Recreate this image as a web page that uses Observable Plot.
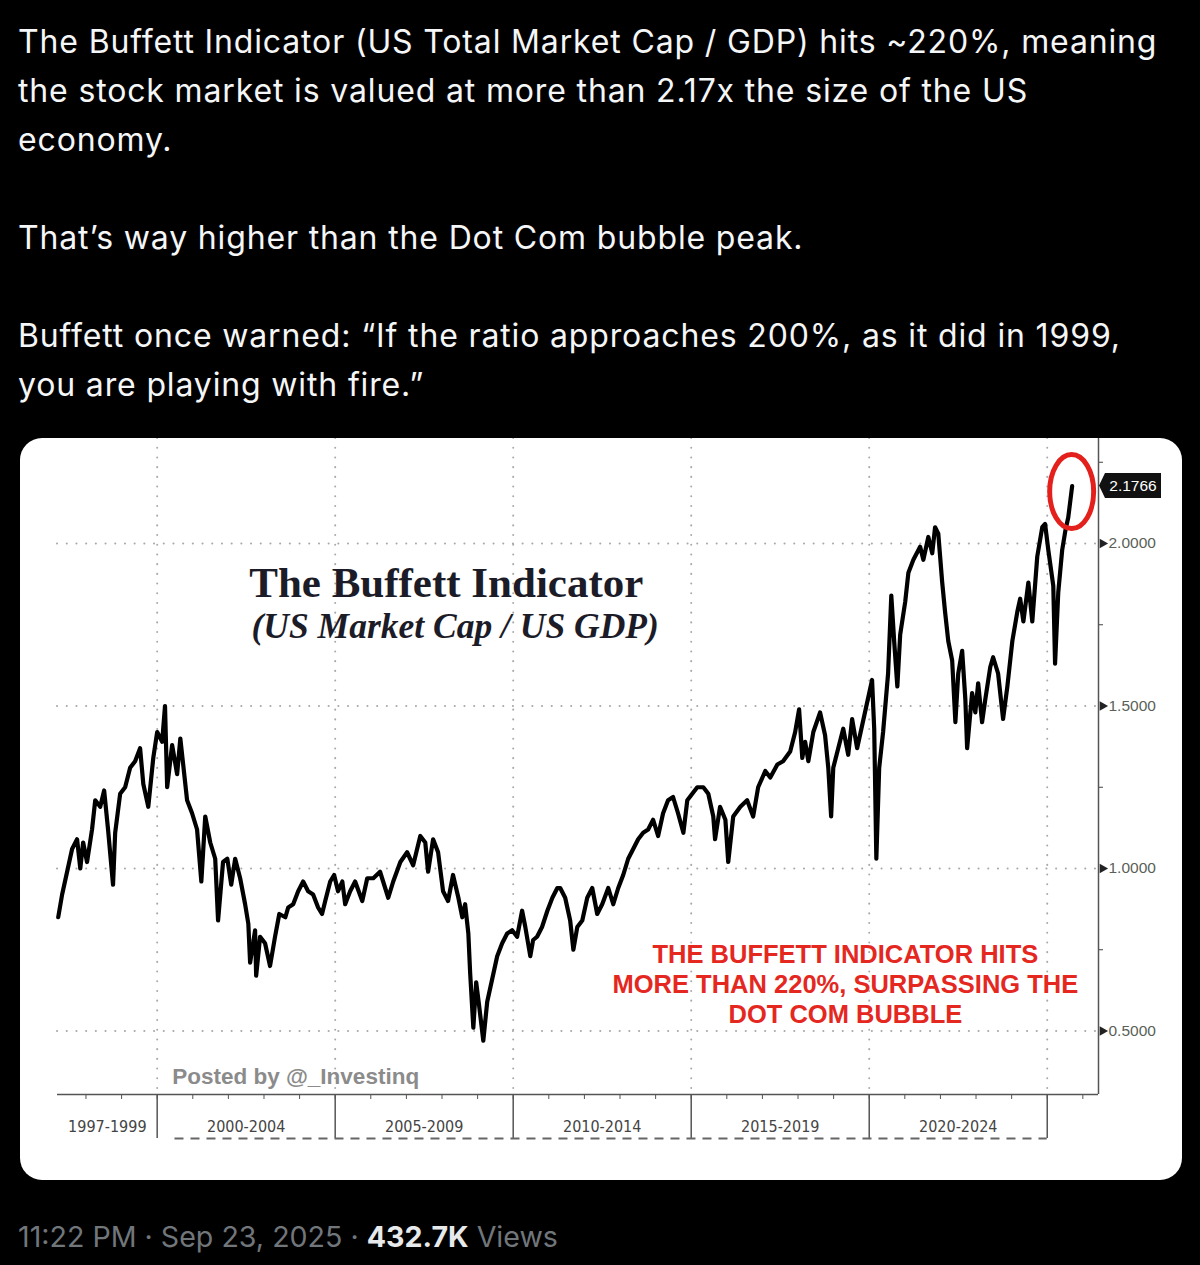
<!DOCTYPE html>
<html>
<head>
<meta charset="utf-8">
<script src="https://cdn.jsdelivr.net/npm/d3@7"></script>
<script src="https://cdn.jsdelivr.net/npm/@observablehq/plot@0.6"></script>
<style>
html, body { margin: 0; padding: 0; background: #000; width: 1200px; height: 1265px; overflow: hidden; }
#tweet { position: absolute; left: 18px; top: 17px; color: #f5f6f7; font-family: Inter, "Open Sans", sans-serif; font-size: 32px; letter-spacing: 0.85px; line-height: 49px; }
#tweet div { white-space: nowrap; height: 49px; }
#card { position: absolute; left: 20px; top: 438px; width: 1162px; height: 742px; background: #fff; border-radius: 22px; overflow: hidden; }
#card svg { display: block; }
#meta { position: absolute; left: 18px; top: 1218px; font-family: Inter, "Open Sans", sans-serif; font-size: 28.6px; line-height: 38px; color: #71767b; white-space: nowrap; }
#meta b { color: #e7e9ea; font-weight: 700; }
</style>
</head>
<body>
<div id="tweet">
  <div>The Buffett Indicator (US Total Market Cap / GDP) hits ~220%, meaning</div>
  <div>the stock market is valued at more than 2.17x the size of the US</div>
  <div>economy.</div>
  <div></div>
  <div>That’s way higher than the Dot Com bubble peak.</div>
  <div></div>
  <div>Buffett once warned: “If the ratio approaches 200%, as it did in 1999,</div>
  <div>you are playing with fire.”</div>
</div>
<div id="card"></div>
<div id="meta">11:22 PM · Sep 23, 2025 · <b>432.7K</b> Views</div>
<script>
// ---- data (decimal year, market cap / GDP ratio) ----
const years = [
1997.22,1997.33,1997.47,1997.61,1997.75,1997.84,1997.92,1998.03,1998.17,1998.26,1998.40,1998.51,1998.62,1998.76,1998.82,1998.96,
1999.10,1999.24,1999.38,1999.52,1999.61,1999.75,1999.89,2000.00,2000.14,2000.22,2000.28,2000.42,2000.56,2000.65,2000.73,2000.84,2000.98,
2001.12,2001.24,2001.35,2001.49,2001.63,2001.71,2001.85,2001.97,2002.08,2002.19,2002.33,2002.47,2002.56,2002.61,2002.75,2002.78,2002.89,
2003.03,2003.17,2003.31,2003.43,2003.60,2003.68,2003.82,2003.96,2004.10,2004.24,2004.38,2004.52,2004.63,2004.72,2004.86,2004.97,
2005.08,2005.20,2005.28,2005.42,2005.56,2005.76,2005.90,2006.07,2006.26,2006.49,2006.63,2006.83,2007.02,2007.19,2007.39,2007.53,2007.61,2007.75,2007.89,
2008.03,2008.17,2008.31,2008.46,2008.57,2008.65,2008.74,2008.79,2008.88,2008.96,2009.04,2009.16,2009.27,2009.41,2009.55,2009.69,2009.83,2009.97,
2010.11,2010.25,2010.34,2010.48,2010.56,2010.67,2010.81,2010.96,2011.10,2011.24,2011.32,2011.46,2011.60,2011.69,2011.80,2011.94,
2012.08,2012.22,2012.36,2012.50,2012.67,2012.81,2012.95,2013.09,2013.23,2013.37,2013.51,2013.65,2013.79,2013.93,
2014.07,2014.21,2014.35,2014.49,2014.63,2014.78,2014.89,2015.03,2015.17,2015.34,2015.48,2015.62,2015.67,2015.81,2015.96,
2016.04,2016.18,2016.38,2016.57,2016.74,2016.88,2017.08,2017.22,2017.42,2017.58,2017.78,2017.92,
2018.03,2018.12,2018.20,2018.29,2018.43,2018.62,2018.76,2018.85,2018.93,2018.99,2019.13,2019.27,2019.41,2019.52,2019.66,2019.80,2019.94,
2020.08,2020.14,2020.20,2020.28,2020.39,2020.53,2020.62,2020.70,2020.79,2020.87,2021.01,2021.10,2021.24,2021.43,2021.52,2021.66,2021.77,2021.85,2021.94,
2022.05,2022.13,2022.22,2022.33,2022.42,2022.50,2022.61,2022.70,2022.75,2022.89,2022.98,2023.06,2023.17,2023.26,2023.40,2023.48,2023.62,2023.76,2023.88,
2024.02,2024.16,2024.24,2024.33,2024.47,2024.58,2024.72,2024.86,2024.94,2025.03,2025.17,2025.22,2025.31,2025.42,2025.51,2025.59,2025.70
];
const ratio = [
0.85,0.92,0.99,1.06,1.09,1.00,1.08,1.02,1.12,1.21,1.19,1.24,1.12,0.95,1.11,1.23,
1.25,1.31,1.33,1.37,1.26,1.19,1.34,1.42,1.39,1.50,1.25,1.38,1.29,1.40,1.32,1.21,1.17,
1.12,0.96,1.16,1.08,1.03,0.84,1.02,1.03,0.95,1.03,0.97,0.89,0.83,0.71,0.81,0.67,0.79,
0.77,0.70,0.79,0.86,0.85,0.88,0.89,0.93,0.96,0.93,0.92,0.88,0.86,0.90,0.96,0.98,
0.93,0.96,0.89,0.93,0.96,0.90,0.97,0.97,0.99,0.91,0.96,1.02,1.05,1.01,1.10,1.08,0.99,1.09,1.05,
0.93,0.90,0.98,0.91,0.85,0.89,0.80,0.68,0.51,0.65,0.58,0.47,0.59,0.66,0.73,0.77,0.80,0.81,
0.79,0.87,0.82,0.73,0.78,0.79,0.82,0.87,0.91,0.94,0.94,0.91,0.84,0.75,0.82,0.84,
0.91,0.94,0.86,0.89,0.94,0.89,0.94,0.98,1.03,1.06,1.09,1.11,1.12,1.15,
1.10,1.17,1.21,1.22,1.17,1.11,1.21,1.23,1.25,1.25,1.23,1.16,1.09,1.19,1.15,
1.02,1.16,1.19,1.21,1.16,1.25,1.30,1.28,1.32,1.33,1.36,1.42,
1.49,1.34,1.39,1.33,1.42,1.48,1.41,1.31,1.16,1.31,1.37,1.43,1.35,1.46,1.37,1.44,1.51,
1.58,1.43,1.03,1.31,1.42,1.60,1.84,1.70,1.56,1.72,1.82,1.91,1.95,1.99,1.95,2.02,1.97,2.05,2.03,
1.88,1.79,1.70,1.64,1.45,1.60,1.67,1.52,1.37,1.54,1.48,1.57,1.45,1.52,1.62,1.65,1.60,1.46,1.56,
1.70,1.79,1.83,1.76,1.88,1.76,1.96,2.05,2.06,1.98,1.87,1.63,1.85,1.98,2.04,2.08,2.1766
];
const majorTicks = [0.5, 1.0, 1.5, 2.0];
const minorTicks = [0.75, 1.25, 1.75, 2.25];
const periods = ["1997-1999", "2000-2004", "2005-2009", "2010-2014", "2015-2019", "2020-2024"];
const lastValue = 2.1766;
const chartTitle = "The Buffett Indicator";
const chartSubtitle = "(US Market Cap / US GDP)";
const annotationLines = ["THE BUFFETT INDICATOR HITS", "MORE THAN 220%, SURPASSING THE", "DOT COM BUBBLE"];
const credit = "Posted by @_Investinq";

// ---- derived ----
const xDomain = [1997.2, 2026.44];
const yDomain = [0.3046, 2.3231];
const data = years.map((year, i) => ({year, value: ratio[i]}));
const periodData = periods.map(p => {
  const [a, b] = p.split("-").map(Number);
  return {label: p, start: Math.max(a, xDomain[0]), end: b + 1};
});
const dividers = periodData.map(d => d.end);
const yearTicks = d3.range(Math.ceil(xDomain[0]), Math.floor(xDomain[1]) + 1);
const lastYear = years[years.length - 1];

const dotted = {stroke: "#a9a9a9", strokeWidth: 2, strokeDasharray: "0.1,9.6", strokeLinecap: "round"};

const chart = Plot.plot({
  width: 1162,
  height: 742,
  marginLeft: 37,
  marginRight: 84,
  marginTop: 0,
  marginBottom: 86,
  x: {domain: xDomain, label: null},
  y: {domain: yDomain, label: null},
  style: {background: "transparent", fontFamily: "'Liberation Sans', Arial, sans-serif", overflow: "visible"},
  marks: [
    Plot.ruleY(majorTicks, dotted),
    Plot.ruleX(dividers, dotted),
    Plot.ruleY([yDomain[0]], {stroke: "#555", strokeWidth: 1.5}),
    Plot.ruleX([xDomain[1]], {stroke: "#555", strokeWidth: 1.5}),
    Plot.axisX({ticks: yearTicks, tickSize: 5, tickFormat: () => "", stroke: "#555", label: null}),
    Plot.axisX({ticks: dividers, tickSize: 44, tickFormat: () => "", stroke: "#555", strokeWidth: 1.5, label: null}),
    Plot.ruleY([yDomain[0]], {x1: () => 2000.5, x2: () => 2025, dy: 44, stroke: "#666", strokeWidth: 2, strokeDasharray: "9,7"}),
    Plot.text(periodData, {x: d => (d.start + d.end) / 2, text: "label", frameAnchor: "bottom", dy: 37, fontSize: 16, fill: "#444", fontFamily: "'DejaVu Sans Condensed', sans-serif"}),
    Plot.axisY({anchor: "right", ticks: majorTicks, tickSize: 0, tickPadding: 10, tickFormat: d => d.toFixed(4), fontSize: 15.5, fill: "#5a5f58", label: null}),
    Plot.axisY({anchor: "right", ticks: minorTicks, tickSize: 4, tickFormat: () => "", stroke: "#444", label: null}),
    Plot.dot(majorTicks, {y: d => d, frameAnchor: "right", symbol: "triangle", rotate: 90, r: 3.6, fill: "#222", stroke: "none", dx: 4}),
    Plot.line(data, {x: "year", y: "value", stroke: "#000", strokeWidth: 4.2, strokeLinejoin: "round"}),
    Plot.text([chartTitle], {x: () => 2008.12, y: () => 1.877, text: d => d, fontSize: 43, fontWeight: "bold", fill: "#1c1c28", fontFamily: "'Liberation Serif', serif"}),
    Plot.text([chartSubtitle], {x: () => 2008.37, y: () => 1.745, text: d => d, fontSize: 35.5, fontWeight: "bold", fontStyle: "italic", fill: "#1c1c28", fontFamily: "'Liberation Serif', serif"}),
    Plot.text([annotationLines.join("\n")], {x: () => 2019.33, y: () => 0.646, text: d => d, fontSize: 25.5, fontWeight: "bold", fill: "#e5281f", lineHeight: 1.16, lineAnchor: "middle"}),
    Plot.text([credit], {x: () => 2000.42, y: () => 0.36, text: d => d, textAnchor: "start", fontSize: 22.5, fontWeight: "bold", fill: "#8b8b8b"}),
    (index, scales, values, dims) => {
      const g = d3.create("svg:g");
      const xr = dims.width - dims.marginRight;
      const yv = scales.y(lastValue);
      g.append("path")
        .attr("d", `M${xr + 1},${yv} L${xr + 7},${yv - 12.5} H${xr + 63} V${yv + 12.5} H${xr + 7} Z`)
        .attr("fill", "#111");
      g.append("text")
        .attr("x", xr + 35).attr("y", yv).attr("dy", "0.36em")
        .attr("text-anchor", "middle").attr("fill", "#fff")
        .attr("font-size", 15.5).attr("font-family", "'Liberation Sans', Arial, sans-serif")
        .text(lastValue.toFixed(4));
      g.append("ellipse")
        .attr("cx", scales.x(lastYear)).attr("cy", yv + 6)
        .attr("rx", 22).attr("ry", 37)
        .attr("fill", "none").attr("stroke", "#e3201b").attr("stroke-width", 5);
      return g.node();
    }
  ]
});
document.getElementById("card").appendChild(chart);
</script>
</body>
</html>
